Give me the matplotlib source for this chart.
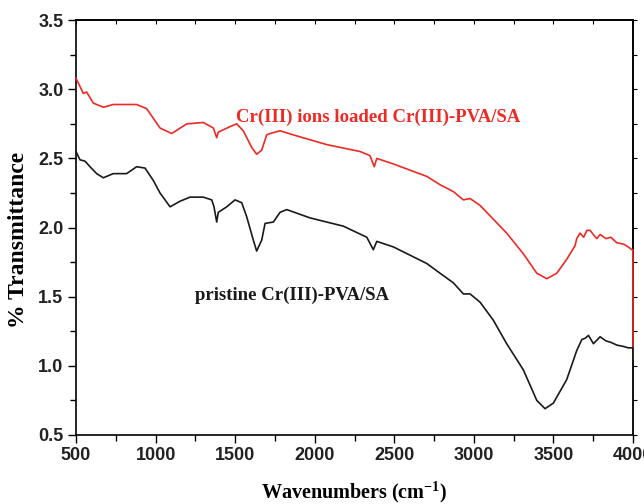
import matplotlib
matplotlib.use("Agg")
import matplotlib.pyplot as plt
from matplotlib.ticker import MultipleLocator

plt.rcParams["mathtext.fontset"] = "custom"
plt.rcParams["mathtext.rm"] = "Liberation Serif:bold"
plt.rcParams["mathtext.bf"] = "Liberation Serif:bold"

# FTIR spectra, wavenumber (cm-1) vs % transmittance (offset traces)
loaded_wn = [500, 546, 567, 609, 672, 734, 881, 944, 1028, 1101, 1196, 1300,
             1363, 1384, 1394, 1468, 1510, 1551, 1604, 1635, 1667, 1698, 1719,
             1782, 1866, 2075, 2285, 2347, 2374, 2390, 2494, 2704, 2787, 2871,
             2934, 2976, 3039, 3206, 3311, 3395, 3458, 3521, 3583, 3636, 3646,
             3667, 3690, 3710, 3730, 3750, 3772, 3793, 3830, 3860, 3898, 3940,
             3970, 3992, 3999, 4000]
loaded_t = [3.08, 2.97, 2.98, 2.90, 2.87, 2.89, 2.89, 2.86, 2.72, 2.68, 2.75,
            2.76, 2.72, 2.65, 2.69, 2.73, 2.75, 2.70, 2.58, 2.53, 2.56, 2.67,
            2.68, 2.70, 2.67, 2.60, 2.55, 2.52, 2.44, 2.50, 2.46, 2.37, 2.31,
            2.26, 2.20, 2.21, 2.16, 1.96, 1.81, 1.67, 1.63, 1.67, 1.77, 1.87,
            1.92, 1.96, 1.93, 1.98, 1.98, 1.95, 1.92, 1.95, 1.92, 1.93, 1.89,
            1.88, 1.86, 1.84, 1.84, 1.05]

pristine_wn = [500, 525, 557, 588, 630, 672, 734, 818, 881, 934, 986, 1028,
               1091, 1153, 1216, 1300, 1353, 1367, 1384, 1394, 1447, 1499,
               1541, 1572, 1614, 1635, 1667, 1688, 1740, 1782, 1824, 1970,
               2180, 2327, 2368, 2390, 2494, 2704, 2787, 2871, 2934, 2976,
               3039, 3122, 3206, 3311, 3395, 3447, 3499, 3583, 3625, 3646,
               3678, 3700, 3720, 3751, 3793, 3830, 3860, 3898, 3940, 3970,
               3992, 3999, 4000]
pristine_t = [2.55, 2.49, 2.48, 2.44, 2.39, 2.36, 2.39, 2.39, 2.44, 2.43,
              2.34, 2.25, 2.15, 2.19, 2.22, 2.22, 2.20, 2.15, 2.04, 2.11,
              2.15, 2.20, 2.18, 2.08, 1.91, 1.83, 1.91, 2.03, 2.04, 2.11,
              2.13, 2.07, 2.01, 1.93, 1.84, 1.90, 1.86, 1.74, 1.67, 1.60,
              1.52, 1.52, 1.46, 1.33, 1.16, 0.97, 0.75, 0.69, 0.73, 0.90,
              1.04, 1.11, 1.19, 1.20, 1.22, 1.16, 1.21, 1.18, 1.17, 1.15,
              1.14, 1.13, 1.13, 1.13, 0.50]

fig = plt.figure(figsize=(6.44, 5.04), dpi=100)
ax = fig.add_axes([0.118, 0.137, 0.865, 0.823])

ax.plot(loaded_wn, loaded_t, color="#ee2a24", linewidth=1.2, zorder=3,
        clip_on=False)
ax.plot(pristine_wn, pristine_t, color="#1a1a1a", linewidth=1.2, zorder=3,
        clip_on=False)

ax.set_xlim(500, 4000)
ax.set_ylim(0.5, 3.5)
ax.xaxis.set_major_locator(MultipleLocator(500))
ax.xaxis.set_minor_locator(MultipleLocator(250))
ax.yaxis.set_major_locator(MultipleLocator(0.5))
ax.yaxis.set_minor_locator(MultipleLocator(0.25))
ax.tick_params(which="major", direction="out", length=6, width=1.0,
               labelsize=13, pad=3)
ax.tick_params(which="minor", direction="out", length=4, width=1.0)
for lab in ax.get_xticklabels() + ax.get_yticklabels():
    lab.set_fontfamily("Liberation Sans")
    lab.set_fontweight("bold")
    lab.set_color("#222222")

# mirrored ticks on top and right, no labels
top = ax.secondary_xaxis("top")
top.xaxis.set_major_locator(MultipleLocator(250))
top.tick_params(direction="in", length=3, labeltop=False)
right = ax.secondary_yaxis("right")
right.yaxis.set_major_locator(MultipleLocator(0.25))
right.tick_params(direction="out", length=3, labelright=False)

for sp in list(ax.spines.values()) + [top.spines["top"], right.spines["right"]]:
    sp.set_linewidth(1.2)

serif = ["Liberation Serif", "DejaVu Serif"]
ax.set_xlabel("Wavenumbers (cm$^{-1}$)", fontfamily=serif,
              fontweight="bold", fontsize=14.5, va="center")
ax.xaxis.set_label_coords(0.5, -0.137)
ax.set_ylabel("% Transmittance", fontfamily=serif, fontweight="bold",
              fontsize=17, va="center")
ax.yaxis.set_label_coords(-0.104, 0.47)

ax.text(1503, 2.80, "Cr(III) ions loaded Cr(III)-PVA/SA", color="#ee2a24",
        fontfamily=serif, fontweight="bold", fontsize=13.5, va="center")
ax.text(1250, 1.51, "pristine Cr(III)-PVA/SA", color="#1a1a1a",
        fontfamily=serif, fontweight="bold", fontsize=13.5, va="center")

fig.savefig("out.png", dpi=100)
